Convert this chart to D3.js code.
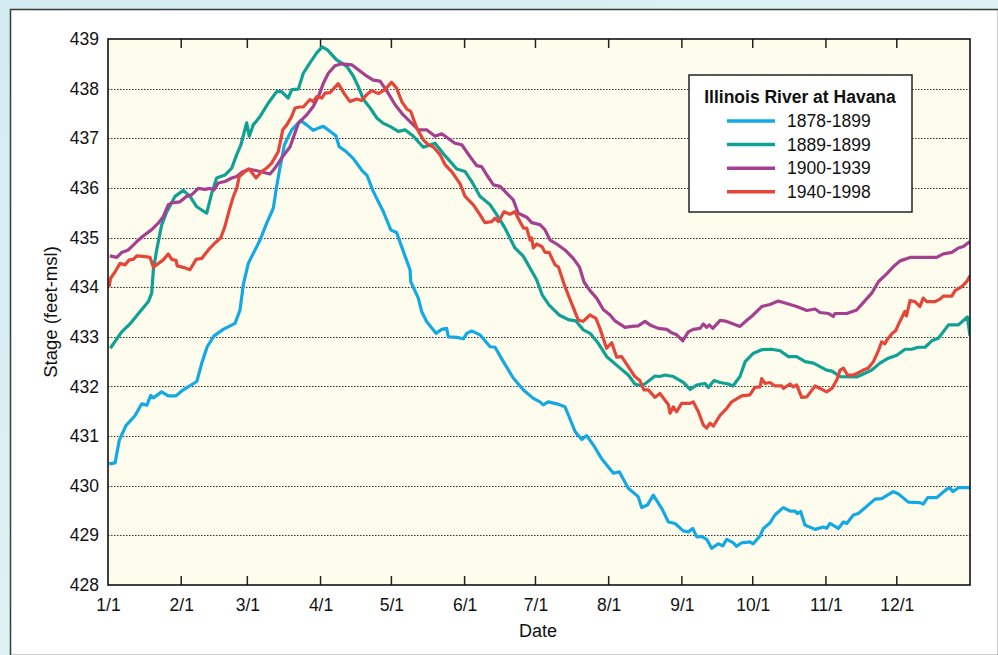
<!DOCTYPE html>
<html>
<head>
<meta charset="utf-8">
<script src="https://cdn.jsdelivr.net/npm/d3@7"></script>
<style>
  html, body { margin: 0; padding: 0; background: #d9eef2; overflow: hidden; }
  svg { display: block; font-family: "Liberation Sans", Arial, Helvetica, sans-serif; }
</style>
</head>
<body>
<div id="chart"></div>
<script>
// month starts as day-of-year, and their tick labels
const monthStarts = [0, 31, 59, 90, 120, 151, 181, 212, 243, 273, 304, 334];
const monthLabels = ["1/1", "2/1", "3/1", "4/1", "5/1", "6/1", "7/1", "8/1", "9/1", "10/1", "11/1", "12/1"];
const stageTicks = [428, 429, 430, 431, 432, 433, 434, 435, 436, 437, 438, 439];

const seriesNames = ["1878-1899", "1889-1899", "1900-1939", "1940-1998"];
const seriesColors = ["#14a8e4", "#0ea194", "#a4408f", "#e4463a"];

// [day of year, stage (feet-msl)]
const stage1878 = [
  [0.5,430.44],[3,430.46],[4.8,430.92],[7.6,431.21],[11.4,431.41],[14.3,431.65],[16.4,431.62],[18.1,431.82],
  [19.2,431.77],[22.7,431.89],[25.5,431.81],[28.8,431.81],[31.2,431.91],[37.6,432.10],[39.7,432.47],[42,432.80],
  [44.9,433.02],[48.8,433.15],[53.8,433.27],[55.9,433.54],[57.3,434.05],[59.4,434.48],[64.4,434.95],[67.2,435.29],
  [70,435.59],[71.4,436.03],[72.8,436.40],[74.7,436.87],[77.8,437.17],[81.6,437.36],[84.1,437.27],[86.9,437.16],
  [89.8,437.22],[91.2,437.24],[94,437.14],[96.5,437.05],[97.9,436.83],[100.6,436.74],[103.9,436.59],[107.4,436.36],
  [109.7,436.25],[112.3,435.93],[116.6,435.52],[119.8,435.15],[122.2,435.10],[125.8,434.62],[127.9,434.35],[128.2,434.11],
  [131.4,433.78],[132.8,433.51],[134.9,433.31],[138.9,433.07],[141.3,433.15],[143.4,433.17],[144.1,433.00],[147.7,432.99],
  [150.5,432.96],[151.9,433.07],[154,433.12],[157.5,433.04],[161.8,432.80],[163.9,432.79],[167.4,432.50],[171.6,432.17],
  [175.9,431.93],[180.1,431.76],[182.9,431.69],[184.3,431.63],[186.4,431.69],[190,431.65],[193.5,431.59],[194.9,431.43],
  [197.8,431.09],[200.6,430.93],[202.7,431.01],[205.8,430.80],[208.8,430.56],[214,430.25],[216.5,430.28],[220.3,429.95],
  [224.5,429.78],[226,429.56],[228.4,429.61],[230.9,429.81],[234.5,429.54],[237.3,429.27],[240.1,429.24],[243.6,429.09],
  [245.7,429.07],[247.6,429.14],[249.3,428.97],[251.4,428.98],[253.5,428.92],[255.6,428.74],[258.4,428.83],[260.3,428.79],
  [262,428.92],[264.8,428.85],[266.2,428.78],[268.3,428.85],[271.8,428.87],[273.2,428.83],[276.1,428.99],[277.5,429.14],
  [280.3,429.25],[282.4,429.41],[285.9,429.56],[288.8,429.49],[290.9,429.49],[291.9,429.44],[293.3,429.48],[295.1,429.21],
  [299.4,429.12],[302.9,429.17],[304.3,429.14],[305.7,429.24],[309.2,429.14],[311.4,429.27],[312.8,429.24],[315.6,429.41],
  [317.7,429.44],[324.8,429.73],[327.6,429.74],[332.5,429.88],[334.6,429.84],[338.9,429.67],[343.8,429.66],[345.2,429.63],
  [347.1,429.76],[350.9,429.76],[355.1,429.93],[356.5,429.96],[357.7,429.88],[360.1,429.96],[365,429.96]
];

const stage1889 = [
  [1,432.77],[5.8,433.10],[9.3,433.26],[13.6,433.51],[17.1,433.71],[18.5,433.88],[19.2,434.35],[20.6,434.75],
  [22.7,435.25],[24.9,435.52],[28.4,435.83],[31.9,435.95],[34.7,435.83],[37.6,435.62],[41.8,435.49],[43.9,435.89],
  [46,436.20],[49.5,436.26],[52.4,436.40],[54.5,436.67],[56.3,436.87],[58.7,437.31],[59.8,437.04],[61.5,437.27],
  [64.4,437.44],[67.9,437.71],[71.4,437.94],[73.5,437.94],[76.3,437.81],[77.8,437.98],[80.6,437.99],[82.7,438.31],
  [85.5,438.52],[88.4,438.72],[90.7,438.84],[92.9,438.78],[96.8,438.58],[101.1,438.45],[103.9,438.25],[106,438.04],
  [108.2,437.78],[111,437.61],[113.8,437.41],[116.6,437.30],[119.4,437.24],[122.9,437.14],[125.8,437.17],[129.3,437.04],
  [133.5,436.82],[138.5,436.90],[142.7,436.65],[147.7,436.38],[151.2,436.33],[154,436.13],[157.5,435.83],[161.8,435.66],
  [164.6,435.46],[168.1,435.19],[172.3,434.79],[175.9,434.62],[181.5,434.15],[183.9,433.84],[186.8,433.64],[191,433.44],
  [195.3,433.34],[198.1,433.32],[201.3,433.14],[204.1,433.07],[207.6,432.87],[211.2,432.60],[216.1,432.40],[220.3,432.23],
  [223.1,432.05],[226,432.01],[228.1,432.08],[231.6,432.21],[233.7,432.20],[235.9,432.23],[239.4,432.20],[243.6,432.08],
  [246.5,431.94],[249.3,432.03],[251.4,432.05],[252.8,432.06],[254.2,431.98],[256.6,432.12],[259.2,432.08],[262.7,432.05],
  [264.6,432.01],[267.6,432.20],[269.8,432.50],[273.3,432.67],[276.8,432.74],[281,432.75],[284.6,432.72],[288.1,432.60],
  [291.6,432.60],[295.2,432.50],[298.7,432.47],[301.5,432.40],[304.3,432.33],[306.5,432.31],[310,432.20],[317,432.19],
  [319.8,432.25],[323.4,432.33],[326.9,432.47],[330.4,432.57],[334,432.63],[337.5,432.75],[340.3,432.75],[343.1,432.79],
  [346,432.79],[348.8,432.92],[351.6,432.97],[355.9,433.24],[360.1,433.24],[363.9,433.40],[365,433.02]
];

const stage1900 = [
  [0.8,434.63],[3.7,434.60],[5.8,434.70],[8.6,434.75],[12.2,434.92],[14.9,435.03],[18.5,435.16],[21.3,435.29],
  [23.4,435.42],[25.5,435.66],[27,435.70],[30.5,435.72],[33.3,435.83],[35.4,435.86],[38.2,435.99],[41.1,435.97],
  [43.2,435.99],[44.9,435.96],[46.7,436.10],[49.5,436.13],[52.4,436.20],[54.5,436.23],[56.6,436.31],[59.4,436.38],
  [61.5,436.36],[64.4,436.33],[68.6,436.28],[70.7,436.40],[73.5,436.60],[77.1,436.83],[80.6,437.30],[84.1,437.47],
  [86.9,437.64],[89.1,437.84],[91.2,438.11],[93.3,438.31],[96.1,438.46],[99,438.50],[103.2,438.48],[106,438.38],
  [109.6,438.25],[112.3,438.17],[115.2,438.15],[118,437.96],[121.5,437.68],[125,437.47],[129.3,437.27],[131.4,437.17],
  [134.9,437.17],[138.5,437.04],[141.3,437.09],[143.4,437.02],[146.9,436.90],[149.8,436.87],[153.3,436.63],[156.1,436.45],
  [158.2,436.43],[160.4,436.26],[163.2,436.06],[166,436.03],[169.5,435.86],[171.6,435.76],[173.7,435.49],[177.3,435.41],
  [179.4,435.30],[182.9,435.26],[185,435.16],[187.2,434.95],[190,434.87],[193.5,434.75],[197,434.58],[199.6,434.41],
  [201.6,434.10],[204.1,433.93],[206.9,433.78],[209.7,433.55],[212.6,433.44],[214.7,433.32],[218.9,433.19],[221.8,433.21],
  [224.5,433.22],[227.4,433.31],[229.5,433.24],[233,433.17],[236.6,433.15],[238.7,433.08],[240.8,433.04],[243.4,432.92],
  [245.7,433.10],[247.8,433.15],[250.7,433.17],[252.1,433.26],[253.5,433.19],[254.6,433.24],[256.1,433.17],[259.2,433.33],
  [262,433.31],[264.8,433.26],[267.6,433.21],[270.4,433.33],[273.2,433.44],[276.8,433.61],[280.3,433.65],[283.8,433.72],
  [287.4,433.67],[291.6,433.61],[295.9,433.53],[299.4,433.56],[301.5,433.49],[305,433.47],[307.1,433.41],[307.8,433.47],
  [312.8,433.47],[317,433.54],[319.8,433.69],[323.4,433.88],[326.2,434.11],[329.7,434.27],[332.5,434.41],[335.4,434.53],
  [339.6,434.60],[343.8,434.60],[350.9,434.60],[353.7,434.67],[357.3,434.70],[360.1,434.79],[362.2,434.82],[365,434.92]
];

const stage1940 = [
  [0.5,434.01],[1.1,434.18],[3,434.31],[5.1,434.48],[7.2,434.45],[9,434.55],[10.7,434.56],[12.2,434.63],
  [14.9,434.62],[17.8,434.60],[19.2,434.40],[20.6,434.45],[23.4,434.55],[25.5,434.67],[27,434.56],[28.8,434.54],
  [29.3,434.43],[31.9,434.40],[34.7,434.35],[37.3,434.56],[39.7,434.58],[42.5,434.75],[45.3,434.89],[47.7,434.99],
  [49.5,435.22],[51.4,435.56],[53.1,435.83],[54.5,435.99],[55.6,436.23],[58,436.33],[59.8,436.38],[62.7,436.20],
  [65.1,436.33],[67.2,436.40],[69.3,436.50],[72.1,436.73],[74,437.17],[75.7,437.27],[77.8,437.44],[79.2,437.61],
  [81,437.63],[82.7,437.63],[85.5,437.78],[86.9,437.74],[88.4,437.84],[90.5,437.81],[91.9,437.91],[94,437.92],
  [97.5,438.10],[100.3,437.88],[102.5,437.74],[105.3,437.79],[107.4,437.76],[109.6,437.88],[111.7,437.96],[114.5,437.90],
  [117.3,437.98],[120.1,438.13],[122.2,438.01],[124.4,437.74],[126.5,437.59],[128.2,437.54],[130.7,437.21],[133.5,436.97],
  [135.6,436.87],[137.7,436.83],[140.6,436.67],[142.7,436.47],[145.5,436.33],[149.1,436.08],[151.2,435.83],[154.7,435.66],
  [157.5,435.46],[159.6,435.30],[162.5,435.32],[163.9,435.39],[165.3,435.32],[167.7,435.52],[170.2,435.47],[172.3,435.52],
  [173.7,435.39],[175.9,435.19],[177.3,435.19],[178.7,434.95],[179.4,434.99],[180.1,434.79],[181.5,434.87],[183.7,434.82],
  [185.1,434.70],[186.8,434.70],[189.3,434.45],[190.7,434.41],[193.5,434.01],[195.6,433.76],[199.1,433.34],[201.2,433.31],
  [204.1,433.44],[206.6,433.37],[208.3,433.17],[209.7,432.97],[211.1,432.77],[213.3,432.88],[215.4,432.59],[217.5,432.60],
  [220.3,432.40],[223.1,432.20],[225.2,432.12],[226.9,431.93],[228.8,431.93],[231.6,431.78],[233.7,431.86],[237.3,431.63],
  [238,431.46],[239.4,431.59],[240.8,431.49],[242.9,431.66],[246.5,431.66],[247.8,431.69],[250,431.49],[252.1,431.22],
  [253.5,431.16],[254.9,431.26],[256.3,431.20],[259.2,431.42],[262,431.56],[264.1,431.69],[268.3,431.81],[271.8,431.83],
  [273.9,431.98],[276.1,431.99],[276.8,432.16],[278.2,432.06],[280.3,432.08],[282.4,432.01],[285.3,432.01],[286,431.96],
  [288.8,432.05],[290.2,431.99],[291.6,432.03],[293.7,431.78],[295.9,431.79],[299.4,432.01],[302.3,431.94],[304.3,431.89],
  [306.5,431.96],[308.6,432.13],[310,432.33],[311.4,432.37],[313.1,432.23],[315.7,432.23],[317.8,432.28],[319.8,432.33],
  [322,432.37],[324.1,432.50],[326.2,432.72],[327.6,432.90],[329,432.86],[329.9,432.94],[332.1,433.07],[333.5,433.12],
  [334.9,433.27],[337.4,433.51],[338.1,433.42],[339.6,433.73],[341.7,433.71],[343.8,433.61],[345.2,433.78],[346.7,433.71],
  [348.1,433.71],[350.2,433.71],[352.3,433.76],[353.7,433.82],[357.3,433.82],[358.7,433.93],[361.5,434.01],[363.6,434.11],
  [365,434.23]
];

const allSeries = [stage1878, stage1889, stage1900, stage1940];

const W = 998, H = 655;
const margin = {top: 39, right: 28, bottom: 70, left: 108};
const innerWidth = W - margin.left - margin.right,
	innerHeight = H - margin.top - margin.bottom;

const x = d3.scaleLinear().domain([0, 365]).range([0, innerWidth]);
const y = d3.scaleLinear().domain([428, 439]).range([innerHeight, 0]);

const svg = d3.select("#chart")
	.append("svg")
	.attr("width", W)
	.attr("height", H);

// light blue backdrop and white panel
const defs = svg.append("defs");
const grad = defs.append("linearGradient")
	.attr("id", "bg")
	.attr("x1", 0).attr("y1", 0).attr("x2", 1).attr("y2", 1);
grad.append("stop").attr("offset", "0%").attr("stop-color", "#d3ebf0");
grad.append("stop").attr("offset", "60%").attr("stop-color", "#e2f2f5");
grad.append("stop").attr("offset", "100%").attr("stop-color", "#d6edf1");

svg.append("rect").attr("width", W).attr("height", H).attr("fill", "url(#bg)");
svg.append("rect")
	.attr("x", 10.5).attr("y", 9.5)
	.attr("width", W - 10).attr("height", H - 9)
	.attr("fill", "#fff")
	.attr("stroke", "#3a3a3a")
	.attr("stroke-width", 1.5);

const chartInner = svg.append("g")
	.attr("transform", `translate(${margin.left},${margin.top})`);

chartInner.append("rect")
	.attr("width", innerWidth)
	.attr("height", innerHeight)
	.attr("fill", "#fefcec");

// dotted grid
chartInner.append("g")
	.selectAll("line")
	.data(stageTicks.slice(1, -1))
	.enter()
	.append("line")
	.attr("x1", 0).attr("x2", innerWidth)
	.attr("y1", d => Math.round(y(d)) + 0.5)
	.attr("y2", d => Math.round(y(d)) + 0.5)
	.attr("stroke", "#333")
	.attr("stroke-width", 1)
	.attr("stroke-dasharray", "1.5,1.5");

// y labels
const yAxis = d3.axisLeft(y).tickValues(stageTicks).tickSize(0).tickPadding(9).tickFormat(d3.format("d"));
chartInner.append("g")
	.attr("font-size", 17.5)
	.attr("font-family", "Liberation Sans, Arial, sans-serif")
	.call(yAxis)
	.call(g => g.select(".domain").remove())
	.call(g => g.attr("font-size", 17.5).attr("font-family", "Liberation Sans, Arial, sans-serif"))
	.selectAll("text")
	.attr("fill", "#111");

// x labels, plus inward ticks on top and bottom
const xAxis = d3.axisBottom(x)
	.tickValues(monthStarts)
	.tickSize(0)
	.tickPadding(14)
	.tickFormat((d, i) => monthLabels[i]);
chartInner.append("g")
	.attr("transform", `translate(0,${innerHeight})`)
	.call(xAxis)
	.call(g => g.select(".domain").remove())
	.call(g => g.attr("font-size", 17.5).attr("font-family", "Liberation Sans, Arial, sans-serif"))
	.selectAll("text")
	.attr("fill", "#111");

const tickG = chartInner.append("g").attr("stroke", "#222").attr("stroke-width", 1.5);
tickG.selectAll(".tb")
	.data(monthStarts.slice(1))
	.enter().append("line")
	.attr("x1", d => x(d)).attr("x2", d => x(d))
	.attr("y1", innerHeight).attr("y2", innerHeight - 9);
tickG.selectAll(".tt")
	.data(monthStarts.slice(1))
	.enter().append("line")
	.attr("x1", d => x(d)).attr("x2", d => x(d))
	.attr("y1", 0).attr("y2", 9);

// the four lines
const line = d3.line()
	.x(d => x(d[0]))
	.y(d => y(d[1]));

const clip = defs.append("clipPath").attr("id", "plotclip");
clip.append("rect").attr("width", innerWidth).attr("height", innerHeight);

chartInner.append("g")
	.attr("clip-path", "url(#plotclip)")
	.selectAll("path")
	.data(allSeries)
	.enter()
	.append("path")
	.attr("d", line)
	.attr("fill", "none")
	.attr("stroke", (d, i) => seriesColors[i])
	.attr("stroke-width", 3.2)
	.attr("stroke-linejoin", "round");

// plot frame
chartInner.append("rect")
	.attr("width", innerWidth)
	.attr("height", innerHeight)
	.attr("fill", "none")
	.attr("stroke", "#111")
	.attr("stroke-width", 1.6);

// axis titles
svg.append("text")
	.attr("x", margin.left + innerWidth / 2 - 1)
	.attr("y", 637)
	.attr("text-anchor", "middle")
	.attr("font-size", 18)
	.attr("fill", "#111")
	.text("Date");

svg.append("text")
	.attr("transform", `translate(57,${margin.top + innerHeight / 2}) rotate(-90)`)
	.attr("text-anchor", "middle")
	.attr("font-size", 18.5)
	.attr("fill", "#111")
	.text("Stage (feet-msl)");

// legend
const legend = svg.append("g").attr("transform", "translate(689,75)");
legend.append("rect")
	.attr("width", 223)
	.attr("height", 137)
	.attr("fill", "#fff")
	.attr("stroke", "#222")
	.attr("stroke-width", 1.5);
legend.append("text")
	.attr("x", 111)
	.attr("y", 28)
	.attr("text-anchor", "middle")
	.attr("font-size", 17.5)
	.attr("font-weight", "bold")
	.attr("fill", "#111")
	.text("Illinois River at Havana");

const items = legend.selectAll(".item")
	.data(seriesNames)
	.enter()
	.append("g")
	.attr("transform", (d, i) => `translate(0,${46 + i * 23.6})`);
items.append("line")
	.attr("x1", 38).attr("x2", 86)
	.attr("stroke", (d, i) => seriesColors[i])
	.attr("stroke-width", 3.5);
items.append("text")
	.attr("x", 98)
	.attr("y", 6)
	.attr("font-size", 17.5)
	.attr("fill", "#111")
	.text(d => d);
</script>
</body>
</html>
